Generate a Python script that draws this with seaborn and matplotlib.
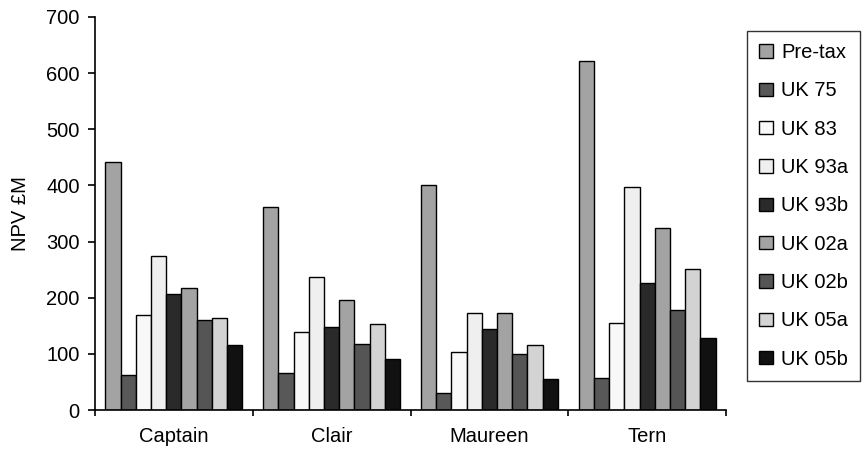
import matplotlib
matplotlib.use("Agg")
import matplotlib.pyplot as plt
import seaborn as sns
import pandas as pd
import numpy as np

fields = ["Captain", "Clair", "Maureen", "Tern"]
regimes = ["Pre-tax", "UK 75", "UK 83", "UK 93a", "UK 93b", "UK 02a", "UK 02b", "UK 05a", "UK 05b"]
pre_tax = [442, 362, 401, 621]
uk75 = [63, 66, 31, 57]
uk83 = [170, 139, 104, 155]
uk93a = [275, 237, 172, 398]
uk93b = [207, 148, 145, 227]
uk02a = [218, 196, 172, 324]
uk02b = [161, 118, 99, 178]
uk05a = [164, 153, 115, 251]
uk05b = [115, 91, 56, 129]
colors = ["#a3a3a3", "#585858", "#f8f8f8", "#efefef", "#2a2a2a", "#a3a3a3", "#555555", "#d3d3d3", "#111111"]

series = [pre_tax, uk75, uk83, uk93a, uk93b, uk02a, uk02b, uk05a, uk05b]
rows = []
for reg, vals in zip(regimes, series):
    for f, v in zip(fields, vals):
        rows.append({"Field": f, "Regime": reg, "NPV": v})
df = pd.DataFrame(rows)

sns.set_style("white")
plt.rcParams['font.family'] = ['Liberation Sans', 'DejaVu Sans']
plt.rcParams['text.color'] = 'black'
plt.rcParams['axes.labelcolor'] = 'black'
plt.rcParams['xtick.color'] = 'black'
plt.rcParams['ytick.color'] = 'black'

FS = 14.5

fig = plt.figure(figsize=(8.63, 4.53), dpi=100)
ax = fig.add_axes([95/863, 43/453, 631/863, 393/453])
sns.barplot(data=df, x="Field", y="NPV", hue="Regime", order=fields, hue_order=regimes,
            palette=colors, edgecolor="black", linewidth=1.0, width=0.87, gap=0,
            saturation=1, ax=ax, errorbar=None)

ax.set_ylim(0, 700)
ax.set_xlim(-0.5, 3.5)
ax.set_yticks(np.arange(0, 701, 100))
ax.set_ylabel("NPV £M", fontsize=FS, labelpad=12)
ax.set_xlabel("")
for s in ["top", "right"]:
    ax.spines[s].set_visible(False)
for s in ["left", "bottom"]:
    ax.spines[s].set_color("black")
    ax.spines[s].set_linewidth(1.2)
ax.tick_params(axis="y", which="major", direction="out", length=5, width=1.2, color="black",
               labelsize=FS, left=True, pad=6)
ax.tick_params(axis="x", which="major", length=0, labelsize=FS, pad=12)
ax.set_xticks(np.arange(-0.5, 3.6, 1.0), minor=True)
ax.tick_params(axis="x", which="minor", direction="out", length=4, width=1.2, color="black", bottom=True)

leg = ax.legend(loc="upper left", bbox_to_anchor=(747/863, 1 - 31/453), bbox_transform=fig.transFigure,
                frameon=True, fontsize=FS, handlelength=0.7, handleheight=0.65, handletextpad=0.4,
                labelspacing=0.96, borderpad=0.6, borderaxespad=0, fancybox=False, edgecolor="black")
leg.get_frame().set_linewidth(1.0)

fig.savefig("out.png", dpi=100)
